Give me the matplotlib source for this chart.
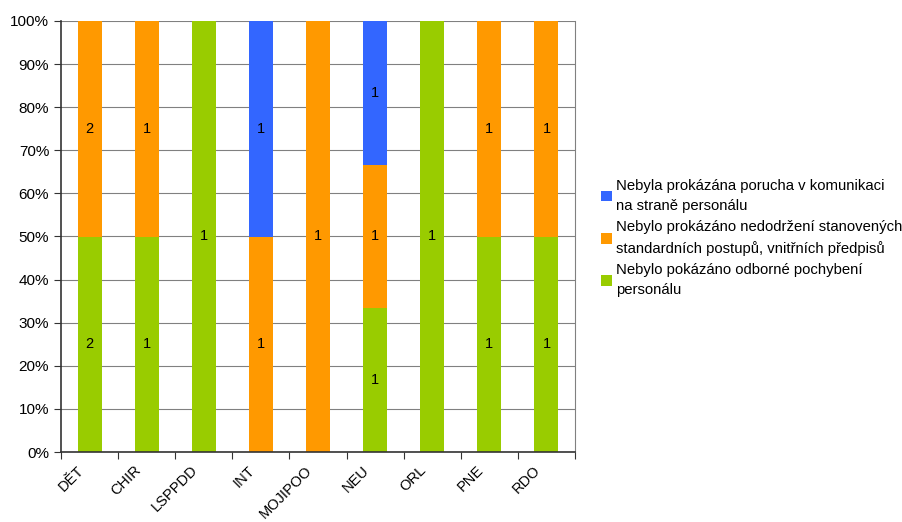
import matplotlib.pyplot as plt
import numpy as np
from matplotlib.transforms import ScaledTranslation

plt.rcParams["font.family"] = ["Liberation Sans", "DejaVu Sans"]

categories = ["DĚT", "CHIR", "LSPPDD", "INT", "MOJIPOO", "NEU", "ORL", "PNE", "RDO"]
odborne = [2, 1, 1, 0, 0, 1, 1, 1, 1]
nedodrzeni = [2, 1, 0, 1, 1, 1, 0, 1, 1]
komunikace = [0, 0, 0, 1, 0, 1, 0, 0, 0]

series = [
    ("Nebylo pokázáno odborné pochybení\npersonálu", odborne, "#99CC00"),
    ("Nebylo prokázáno nedodržení stanovených\nstandardních postupů, vnitřních předpisů", nedodrzeni, "#FF9900"),
    ("Nebyla prokázána porucha v komunikaci\nna straně personálu", komunikace, "#3366FF"),
]

fig = plt.figure(figsize=(9.03, 5.22), dpi=100)
ax = fig.add_axes([61 / 903, 70 / 522, 514 / 903, 431 / 522])

x = np.arange(len(categories))
totals = np.array(odborne) + np.array(nedodrzeni) + np.array(komunikace)
bottom = np.zeros(len(categories))
handles = []
for label, vals, color in series:
    vals = np.array(vals, dtype=float)
    share = vals / totals * 100
    h = ax.bar(x, share, 0.42, bottom=bottom, color=color, label=label, zorder=2)
    handles.append(h)
    for xi, v, s, b in zip(x, vals, share, bottom):
        if v > 0:
            ax.text(xi, b + s / 2, f"{int(v)}", ha="center", va="center", fontsize=10.5, zorder=3)
    bottom += share

ax.set_xlim(-0.5, len(categories) - 0.5)
ax.set_ylim(0, 100)
ax.set_yticks(np.arange(0, 101, 10))
ax.set_yticklabels([f"{v}%" for v in range(0, 101, 10)], fontsize=11)
ax.yaxis.grid(True, color="#808080", linewidth=0.8, zorder=0)
ax.set_axisbelow(True)

# tick marks on category boundaries, rotated names drawn as plain texts
ax.set_xticks(np.arange(-0.5, len(categories)))
ax.set_xticklabels([])
ax.tick_params(axis="x", length=5, direction="out", color="#333333")
ax.tick_params(axis="y", length=5, direction="out", color="#333333")
offset = ScaledTranslation(-13 / 100, -11 / 100, fig.dpi_scale_trans)
for xi, name in zip(x, categories):
    ax.text(xi, 0, name, transform=ax.get_xaxis_transform() + offset,
            rotation=45, ha="right", va="top", rotation_mode="anchor",
            fontsize=10.5)

for side in ["left", "bottom"]:
    ax.spines[side].set_color("#333333")
    ax.spines[side].set_linewidth(1.2)
ax.spines["top"].set_visible(False)
ax.spines["right"].set_color("#808080")

leg = fig.legend(
    handles[::-1],
    [s[0] for s in series][::-1],
    loc="center left",
    bbox_to_anchor=(588 / 903, 1 - 238 / 522),
    frameon=False,
    fontsize=10.7,
    handlelength=0.7,
    handleheight=0.7,
    handletextpad=0.3,
    labelspacing=0.5,
)
for t in leg.get_texts():
    t.set_linespacing(1.55)

fig.savefig("out.png", dpi=100)
